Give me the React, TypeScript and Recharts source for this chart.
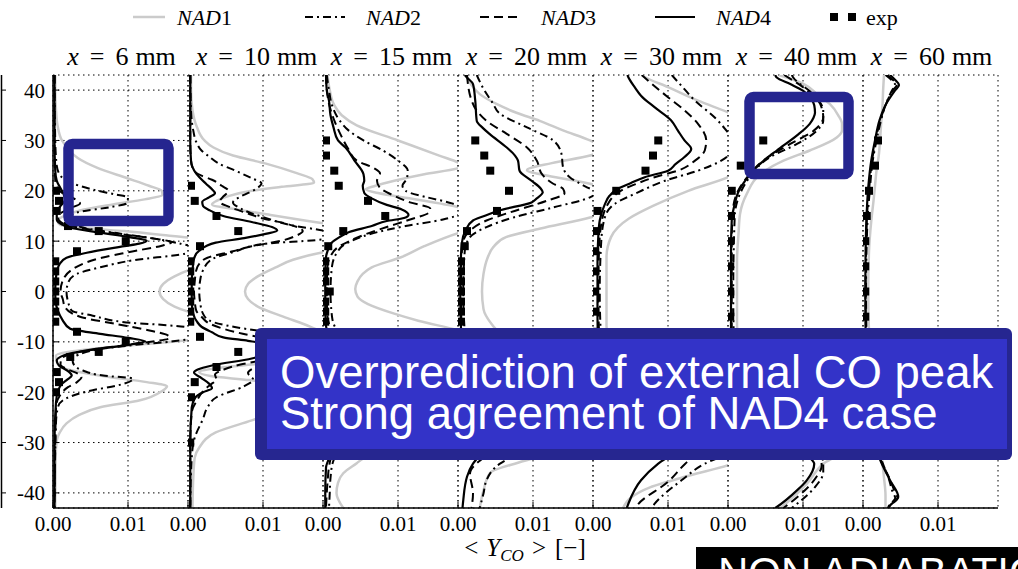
import React from 'react';
import { LineChart, Line, XAxis, YAxis, CartesianGrid } from 'recharts';

type Pt = [number, number];

// ---------- categories / ticks ----------
const STATIONS = ['6', '10', '15', '20', '30', '40', '60'];
const Y_TICKS = [-40, -30, -20, -10, 0, 10, 20, 30, 40];
const X_TICKS = [0, 0.01];
const LEGEND_NAMES = ['NAD1', 'NAD2', 'NAD3', 'NAD4', 'exp'];

// ---------- series values: [r (mm), <Y_CO> x 1e-3] ----------
const X6_NAD1: Pt[] = [[43,0.3],[40,0.3],[36,0.4],[33,0.6],[30,1.2],[28,2.2],[26.5,3.3],[24.5,6],[22.5,9.9],[21,12.8],[20,14.5],[19.2,14.6],[18.3,12.2],[17.3,8],[16.1,3.6],[15,1.5],[14,0.6],[13.2,1],[12.5,5],[12,9.5],[11.3,14],[10.7,18],[9,24],[6.5,24],[4.2,18],[3,16.2],[1.5,14.7],[0,14.2],[-1.5,14.7],[-3,16.2],[-4,18],[-6,24],[-8.5,24],[-9.7,17.9],[-10.5,12],[-11.3,6],[-12,2],[-12.7,0.4],[-14,0.5],[-15,1],[-16,3.5],[-17,7.5],[-18,12.5],[-18.8,15.2],[-19.8,14.5],[-21.6,11.6],[-23,6.3],[-24.5,3.5],[-26.2,1.8],[-28,0.9],[-29.6,0.5],[-33,0.35],[-43,0.3]];
const X6_NAD2: Pt[] = [[43,0.2],[30,0.3],[25,0.5],[23,1],[22,1.8],[21,3.5],[20.3,5.2],[19.3,8.2],[18.7,10],[17.5,9.8],[16.8,7.8],[15.7,3.2],[14.8,2.3],[13.8,2.6],[12.7,4],[11.6,8.5],[10.5,13.5],[9.5,17],[8.5,19.5],[7.5,17.6],[6.2,10.7],[4.8,6.3],[3.5,3.2],[2,2.1],[0,1.8],[-2,2],[-3.8,2.5],[-4.8,5.3],[-6.2,10.3],[-6.7,15.2],[-7.1,17.9],[-8.2,20],[-9.2,19],[-9.9,16],[-10.6,11],[-11.5,6],[-12.5,3.5],[-13.5,2.6],[-14.6,2.8],[-15.7,4],[-16.7,6.7],[-17.3,10.7],[-18.7,8.5],[-19.6,5.3],[-21.2,1.8],[-22.8,0.7],[-26,0.4],[-43,0.2]];
const X6_NAD3: Pt[] = [[43,0.2],[28,0.2],[22,0.3],[20.5,0.6],[19.3,1.5],[18.3,3],[17.5,3.6],[16.6,2.4],[15.5,1],[14.5,0.7],[13.4,1.5],[12.4,4.5],[11.4,9],[10.5,13.5],[9.8,15.8],[9.1,14.5],[7.8,10],[6.7,6.5],[5.8,4.5],[4.2,2.4],[2.5,1.4],[0,1],[-1.5,1.3],[-3.1,1.6],[-5.1,3.8],[-6.4,8.2],[-7.7,12.7],[-8.7,15.3],[-9.2,15.6],[-10.5,10.4],[-11.4,6],[-12.4,2.4],[-13.4,1.1],[-14.5,1],[-15.5,2],[-16.3,3.3],[-17,3.8],[-18,3.2],[-19,2],[-20.7,0.9],[-23,0.4],[-43,0.2]];
const X6_NAD4: Pt[] = [[43,0.2],[30,0.2],[24,0.3],[22,0.5],[20.5,1],[19.4,1.4],[18.2,1.6],[17,1],[15.5,0.5],[14.3,0.5],[13.3,1.2],[12.7,2.2],[11.7,6.3],[10.8,10.2],[10.1,12.5],[9.5,11.5],[9,9.5],[7.7,4.5],[6.7,1.8],[5.5,0.9],[4.5,0.6],[2,0.35],[0,0.3],[-2,0.35],[-4,0.7],[-5.5,1.2],[-7.4,2.3],[-8.4,6.3],[-9.2,10],[-9.9,12.3],[-10.6,10],[-11.7,4.5],[-12.7,1.4],[-13.7,0.5],[-14.7,0.8],[-15.8,2],[-16.7,2.5],[-17.5,1.9],[-18.5,1.1],[-19.6,0.7],[-22,0.4],[-30,0.2],[-43,0.2]];
const X6_EXP: Pt[] = [[20,0.4],[18,0.8],[16,0.5],[13,2],[12,6.1],[10,9.7],[8,3.2],[6,0.3],[4,0.3],[2,0.3],[0,0.3],[-2,0.3],[-4,0.3],[-6,0.3],[-8,3.2],[-10,9.7],[-12,6.1],[-13,2.3],[-16,0.5],[-18,0.8],[-20,0.4]];

const X10_NAD1: Pt[] = [[43,0.4],[40,0.4],[36,0.6],[32.6,1.2],[30,2.2],[28.6,3.4],[27,6],[25.4,10.4],[23.5,14.5],[22.3,16.6],[21.6,16.8],[20.8,12.5],[20,8.5],[19,5.5],[18,3.8],[17.3,3.2],[16.3,6.5],[15.2,11],[14,16],[13.3,19],[11,24],[9,23],[7.7,17.7],[6.3,14],[4.8,11.7],[3,9.3],[1.5,8],[0,7.6],[-1.5,8],[-3,9.3],[-5,12.7],[-6.5,15.5],[-8,18],[-10,23],[-12,24],[-13.3,18],[-14.3,10],[-15.2,4],[-16,1.5],[-16.8,3],[-17.6,8.2],[-19,13],[-20.5,16.5],[-21.5,16.8],[-22.5,15],[-24,11.5],[-25.6,8.5],[-28,3.7],[-31,1.5],[-33,0.9],[-37,0.7],[-43,0.6]];
const X10_NAD2: Pt[] = [[43,0.3],[36,0.4],[32,0.7],[29.7,1.1],[28,1.8],[26.7,2.9],[25.5,4],[24,6.3],[22.5,8.5],[21.5,9.8],[20.3,9],[19,7.2],[17.7,6],[16.5,7],[15.5,8.5],[14.8,10],[13.1,14],[12.1,18],[11,20.5],[10.2,17],[9.5,10.4],[7.8,6],[6.5,3.3],[4.2,2],[2,1.6],[0,1.5],[-2,1.6],[-4.4,2],[-5.8,2.9],[-7.1,6.4],[-7.7,9],[-8.5,13],[-9.5,16],[-10.5,19],[-11.5,20],[-12.5,17.5],[-13.5,13],[-14.8,9.5],[-16.2,8],[-17.5,8.7],[-18.8,7.5],[-21,3.8],[-23,2.6],[-25.3,2],[-29,0.9],[-33,0.5],[-43,0.3]];
const X10_NAD3: Pt[] = [[43,0.3],[30,0.3],[26,0.4],[24,0.8],[23,1.8],[22.2,3.2],[21,4.5],[20,5.4],[18.7,4.6],[17.8,4.2],[16.8,5.5],[15.5,8],[14.5,10],[13.5,13],[12.5,15],[12,15.3],[11,14.3],[10.1,12.5],[9,8.5],[8,6],[6.7,2.6],[5.5,1.5],[4.2,1.1],[2,0.9],[0,0.8],[-2,0.9],[-3.8,1.1],[-5,1.8],[-6.4,2.9],[-8.4,7.3],[-9.5,11],[-10.5,14],[-11.5,15.3],[-12.3,14.5],[-13.5,10.5],[-14.5,7],[-15.5,4.8],[-16.5,3.6],[-17.5,3.8],[-18.5,3],[-19.5,2.2],[-21.6,1.2],[-24,0.5],[-30,0.3],[-43,0.3]];
const X10_NAD4: Pt[] = [[43,0.3],[30,0.3],[26,0.4],[24.7,0.6],[23.4,1.1],[21.4,2.4],[20.3,3.2],[19.5,3.6],[18.7,2.8],[17.8,1.9],[17,2],[16.2,2.8],[15,4.7],[13.8,8.5],[12.8,11.2],[12.1,11.9],[11.5,10.5],[10.6,7.5],[9.7,3.7],[8.1,1.5],[6.5,0.8],[4.2,0.6],[2,0.5],[0,0.5],[-2,0.5],[-4.4,0.7],[-6,1.2],[-7,1.8],[-8.1,3.2],[-9.1,4.7],[-9.8,8],[-10.5,10.8],[-11.2,12],[-12,11],[-13.3,8.5],[-14.7,3.2],[-15.5,1.3],[-16.1,0.8],[-17.2,1.8],[-18.3,2.8],[-19.2,3.2],[-20,2],[-21,1],[-23,0.5],[-30,0.3],[-43,0.3]];
const X10_EXP: Pt[] = [[21,0.4],[18,0.9],[15,3.8],[12,6.7],[9,1.6],[6,0.3],[4,0.3],[2,0.3],[0,0.3],[-2,0.3],[-4,0.3],[-6,0.3],[-9,1.6],[-12,6.7],[-15,3.8],[-18,0.9],[-21,0.4],[-30,0.3]];

const X15_NAD1: Pt[] = [[43,0.6],[40,0.9],[37,1.5],[35,2.5],[33,4.5],[30,10],[27,15.5],[25.5,18.2],[25,18.8],[24.4,17.8],[23.3,13.5],[22,9.5],[21,7],[20.3,5.7],[19.5,7.5],[18.5,11.5],[17.5,15.5],[16.8,18],[14,22],[12.5,20],[11.6,18],[9,13.5],[6.8,10.4],[4.8,6.5],[3.5,5.3],[2,4.6],[0.5,4.3],[-1,4.6],[-2.5,6],[-4.4,9.5],[-5.8,12.7],[-7.7,18],[-10,22],[-14,22],[-16.8,18],[-17.5,15.5],[-18.5,11.5],[-19.5,7.5],[-20.3,5.7],[-21,7],[-22,9.5],[-23.3,13.5],[-24.4,17.8],[-25,18.8],[-25.5,18.2],[-27,15.5],[-30,10],[-33,5.5],[-34.1,4.5],[-36.1,2.7],[-38,2],[-40,1.8],[-43,2.7]];
const X15_NAD2: Pt[] = [[43,0.5],[40,0.8],[37,1.2],[34,2.2],[32,3.4],[30,5.4],[28,8],[26,10],[24,11.3],[22.5,11.2],[21,10.6],[20,11],[18.7,13.9],[17.5,17.2],[16.5,18.5],[15.5,18.3],[14.3,16],[13,11],[11.5,6.5],[10.3,4.2],[9.3,2.8],[7.8,1.9],[5,1.2],[0,1],[-5,1.2],[-7.8,1.9],[-9.3,2.8],[-10.3,4.2],[-11.5,6.5],[-13,11],[-14.3,16],[-15.5,18.3],[-16.5,18.5],[-17.5,17.2],[-18.7,13.9],[-20,11],[-21,10.6],[-22.5,11.2],[-24,11.3],[-26,10],[-28,7.5],[-30,4],[-32,2],[-34,1.3],[-37,1],[-40,0.9],[-43,0.8]];
const X15_NAD3: Pt[] = [[43,0.4],[38,0.7],[34,1.5],[31,2.4],[28.5,3.3],[26,4.5],[24.5,6.8],[23.5,7.6],[22,7.2],[20.6,7.6],[19,9.5],[17.7,11.6],[16.5,14.3],[15.8,14.2],[14.1,11.2],[12.8,8.5],[11.5,5.9],[10,3.5],[8.7,1.9],[7,1],[5,0.6],[0,0.5],[-5,0.6],[-7,1],[-8.7,1.9],[-10,3.5],[-11.5,5.9],[-12.8,8.5],[-14.1,11.2],[-15.8,14.2],[-16.5,14.3],[-17.7,11.6],[-19,9.5],[-20.6,7.6],[-22,7.2],[-23.5,7.6],[-24.5,6.8],[-26,4.5],[-28.5,3],[-31,1.6],[-34,0.9],[-38,0.6],[-43,0.4]];
const X15_NAD4: Pt[] = [[43,0.4],[40,0.5],[37.9,0.8],[35,1],[32.6,1.4],[30,2],[28.6,3],[26,4.2],[23.3,5.4],[22,5.5],[21,5.3],[19.6,5.5],[18.5,6.5],[17.2,8.5],[16.3,10.5],[15.2,11.4],[14.6,10.8],[14,8.5],[13,6.5],[11.8,3.5],[10.8,2.2],[9.6,1.1],[8,0.6],[6.8,0.4],[3,0.3],[0,0.3],[-3,0.3],[-6.8,0.4],[-8,0.6],[-9.6,1.1],[-10.8,2.2],[-11.8,3.5],[-13,6.5],[-14,8.5],[-14.6,10.8],[-15.2,11.4],[-16.3,10.5],[-17.2,8.5],[-18.5,6.5],[-19.6,5.5],[-21,5.3],[-22,5.5],[-23.3,5.4],[-26,4.2],[-28.6,3],[-30,2],[-32.6,1],[-35,0.4],[-40,0.3],[-43,0.3]];
const X15_EXP: Pt[] = [[30,0.4],[27,0.4],[24,1.5],[21,2.1],[18,6],[15,8.3],[12,2.7],[9,0.7],[6,0.3],[4,0.3],[2,0.3],[0,0.9],[-2,0.3],[-4,0.3],[-6,0.3],[-9,0.7],[-12,2.7],[-15,8.3],[-18,6],[-21,2.1],[-24,1.5],[-27,0.4],[-30,0.4]];

const X20_NAD1: Pt[] = [[43,1],[42.5,1.2],[41,1.8],[39.2,2.9],[37.2,5.2],[35.5,7.8],[33.9,10.9],[32,14],[30,17.6],[28.5,19.5],[27,17.6],[25.5,12.5],[24.1,9.2],[23,12],[21.4,17.6],[19,21],[16.5,21],[14.7,17.6],[12.5,11],[10.8,6.4],[8.8,4.7],[6.5,3.9],[3.5,3.4],[0,3.2],[-3.5,3.4],[-6.5,4.5],[-8.8,6],[-10.8,8.5],[-12.5,13],[-14.7,18],[-16.5,21],[-19,21],[-21.4,17.6],[-23,12],[-24.1,9.2],[-25.5,12.5],[-27,17.6],[-28.5,19.5],[-30,17.6],[-32,13],[-34,8],[-36,4.3],[-39.5,3.4],[-43,2.9]];
const X20_NAD2: Pt[] = [[43,2.5],[40,3.5],[37.5,4.6],[35.3,5.6],[32.6,9.2],[30,12.7],[27.3,13.8],[24.7,14],[22.7,14.9],[20.7,17.2],[19.7,18.5],[18.7,17.6],[16.7,12.7],[14.7,7.4],[12.8,3.8],[10.8,1.6],[8,0.9],[0,0.7],[-8,0.9],[-10.8,1.6],[-12.8,3.8],[-14.7,7.4],[-16.7,12.7],[-18.7,17.6],[-19.7,18.5],[-20.7,17.2],[-22.7,14.9],[-24.7,14],[-27.3,13.8],[-30,12],[-32,8.5],[-34.2,5.6],[-37.5,3.8],[-40.1,3.4],[-43,2.9]];
const X20_NAD3: Pt[] = [[43,1.2],[38,1.8],[35.9,2.5],[33.9,3.8],[31.3,6.5],[28.6,9.2],[26,10.5],[23.3,11.2],[21.4,12.7],[20.4,14],[19.5,14.2],[18,11.8],[15.7,6.9],[14.1,3.8],[12.1,1.6],[10,0.7],[6,0.45],[0,0.4],[-6,0.45],[-10,0.7],[-12.1,1.6],[-14.1,3.8],[-15.7,6.9],[-18,11.8],[-19.5,14.2],[-20.4,14],[-21.4,12.7],[-23.3,11.2],[-26,10.5],[-28.6,9],[-31,6],[-33.5,3],[-36.2,1.6],[-40.1,2],[-43,1.8]];
const X20_NAD4: Pt[] = [[43,0.9],[42.5,1.2],[41.2,2],[37.9,2.3],[33.9,2.5],[32.5,3.3],[31.3,4.2],[28.6,6.5],[27,7.6],[26,8],[24,8.2],[22,9.8],[20.5,11],[19.7,11.3],[18.5,10.5],[17.7,9.8],[16.1,5.5],[15,3.5],[14.1,2],[12.1,1],[9.5,0.5],[5,0.35],[0,0.3],[-5,0.35],[-9.5,0.5],[-12.1,1],[-14.1,2],[-15,3.5],[-16.1,5.5],[-17.7,9.8],[-18.5,10.5],[-19.7,11.3],[-20.5,11],[-22,9.8],[-24,8.2],[-26,8],[-27,7.6],[-28.6,6.5],[-31,4],[-34.2,2],[-36.8,1.2],[-41.5,0.7],[-43,0.6]];
const X20_EXP: Pt[] = [[30,2.3],[27,3.5],[24,4.3],[20,6.8],[16,5.2],[12,1.2],[9,0.9],[6,0.4],[4,0.4],[2,0.4],[0,0.4],[-2,0.4],[-4,0.4],[-6,0.4],[-9,0.9],[-12,1.2],[-16,5.2],[-20,6.8],[-24,4.3],[-27,3.5],[-30,2.3]];

const X30_NAD1: Pt[] = [[43,6.5],[42.6,6.9],[40.6,10],[37.9,14],[35.6,18],[34,20.5],[28,22],[24.5,20],[22.7,18],[20,12.7],[17,8],[14.5,4.8],[10.8,2.4],[6.8,1.8],[0,1.8],[-6.8,1.8],[-10.8,2.4],[-14.5,4.8],[-17,8],[-20,12.7],[-22.7,18],[-24.5,20],[-28,22],[-33,20.5],[-34.5,18],[-36.5,13],[-38.9,7.6],[-41,5],[-43,4]];
const X30_NAD2: Pt[] = [[43,10.5],[40.5,12],[37.9,13.6],[34.6,16.2],[32.3,17.6],[30,18.6],[28,18.5],[26,17.1],[24,14],[22,9.6],[19.7,6],[17.4,2.9],[14.8,1.6],[10,1.1],[0,0.9],[-10,1.1],[-14.8,1.6],[-17.4,2.9],[-19.7,6],[-22,9.6],[-24,14],[-26,17.1],[-28,18.5],[-30,18.6],[-32.3,17.6],[-34.2,14.9],[-37.5,11.8],[-42.2,8.2],[-43,7.8]];
const X30_NAD3: Pt[] = [[43,6.5],[41.3,7.8],[38.6,10],[36,12.2],[33.3,14],[30,15.1],[28,14.9],[26,13.6],[24,11.3],[22.7,8.2],[21.5,6],[20.4,4.2],[19,2.8],[17.4,2],[13.4,1.1],[8,0.8],[0,0.7],[-8,0.8],[-13.4,1.1],[-17.4,2],[-19,2.8],[-20.4,4.2],[-21.5,6],[-22.7,8.2],[-24,11.3],[-26,13.6],[-28,14.9],[-30,15.1],[-32,14],[-34.2,12.3],[-37.8,10],[-42.3,6],[-43,5.7]];
const X30_NAD4: Pt[] = [[43,4.6],[42.6,4.7],[40.5,5.6],[38.9,6.4],[36.6,8.2],[34,10.4],[32,11.3],[30,12.2],[28.3,13.1],[26.7,12.2],[25.3,11],[24,10],[22.7,6.9],[21.5,5],[20.4,3.3],[19,2.2],[17.4,1.6],[14.1,0.9],[10.8,0.7],[5,0.6],[0,0.6],[-5,0.6],[-10.8,0.7],[-14.1,0.9],[-17.4,1.6],[-19,2.2],[-20.4,3.3],[-21.5,5],[-22.7,6.9],[-24,10],[-25.3,11],[-26.7,12.2],[-28.3,13.1],[-30,12.2],[-32,10.8],[-34.2,8.7],[-37.5,6.4],[-42.2,4.7],[-43,4.5]];
const X30_EXP: Pt[] = [[30,8.7],[27,8],[24,7],[20,3.1],[16,0.6],[12,0.4],[8,0.3],[4,0.3],[0,0.3],[-4,0.3],[-8,0.3],[-12,0.4],[-16,0.6],[-20,3.1],[-24,7],[-27,8],[-30,8.7]];

const X40_NAD1: Pt[] = [[43,6.8],[41.3,10],[39,12],[37.2,13.6],[35,14.7],[33.3,15.2],[32,15.2],[30.6,14.5],[28,10.9],[26,7.4],[23.3,4.3],[19.4,2.5],[15.4,1.6],[11.4,1.4],[6.2,1.2],[0,1.2],[-6.2,1.2],[-11.4,1.4],[-15.4,1.6],[-19.4,2.5],[-23.3,4.3],[-26,7.4],[-28,10.9],[-30.6,14.5],[-32,14.8],[-34.2,12.7],[-38.2,10.5],[-42.5,7.4],[-43,7]];
const X40_NAD2: Pt[] = [[43,8.5],[42.5,8.7],[39,11.5],[35.9,12.7],[33.9,12.7],[31.9,11.8],[29.3,9.2],[26.7,5.6],[22.7,2.9],[19.4,1.6],[15,0.9],[0,0.7],[-15,0.9],[-19.4,1.6],[-22.7,2.9],[-26.7,5.6],[-29.3,9.2],[-31.9,11.8],[-33.9,12.7],[-35.9,12.7],[-39,11.5],[-43,8.5]];
const X40_NAD3: Pt[] = [[43,7.5],[40,10.5],[37.2,12.3],[34.6,12.7],[31.9,11.4],[29.3,8.3],[26,4.7],[23.3,2.9],[20.7,1.6],[16.7,0.7],[10,0.5],[0,0.5],[-10,0.5],[-16.7,0.7],[-20.7,1.6],[-23.3,2.9],[-26,4.7],[-29.3,8.3],[-31.9,11.4],[-34.6,12.5],[-36.8,11.8],[-41.5,8.7],[-43,7.4]];
const X40_NAD4: Pt[] = [[43,6.3],[42.5,6.5],[41.2,8.3],[39.9,10],[38,11.2],[37,11.5],[35.5,11.6],[34.5,11.4],[33.3,10.9],[31,9.2],[28,6.5],[26.4,5.1],[24.7,3.8],[22,2.3],[19.5,1.3],[17.4,0.9],[14.1,0.5],[8,0.4],[0,0.4],[-8,0.4],[-14.1,0.5],[-17.4,0.9],[-19.5,1.3],[-22,2.3],[-24.7,3.8],[-26.4,5.1],[-28,6.5],[-31,9.2],[-33,10.9],[-34.2,11.5],[-37.5,10.5],[-39.5,9.2],[-42.8,6.5],[-43,6.3]];
const X40_EXP: Pt[] = [[30,4.7],[25,1.7],[20,0.5],[15,0.4],[10,0.3],[5,0.3],[0,0.3],[-5,0.3],[-10,0.3],[-15,0.4],[-20,0.5],[-25,1.7],[-30,4.7]];

const X60_NAD1: Pt[] = [[43,2.8],[40.5,2.7],[37,2.6],[33,2.4],[30.6,2.3],[27,2.1],[24,1.8],[21,1.6],[18,1.4],[14,1.1],[8,0.8],[0,0.7],[-8,0.8],[-14,1.1],[-18,1.4],[-21,1.6],[-24,1.8],[-27,2.1],[-30.6,2.3],[-33,2.5],[-37,2.8],[-40.5,3],[-43,3]];
const X60_NAD2: Pt[] = [[43,3],[42,3.8],[41,4.3],[40,3.9],[37,3],[34,2.4],[30,1.8],[26,1.3],[20,0.9],[14,0.6],[0,0.4],[-14,0.6],[-20,0.9],[-26,1.3],[-30,1.8],[-34,2.6],[-37,3.4],[-40,4],[-41,4.3],[-42,3.8],[-43,3.2]];
const X60_NAD3: Pt[] = [[43,3.2],[42,4],[41,4.5],[40,4],[37,3],[34,2.3],[30,1.7],[26,1.2],[20,0.8],[14,0.5],[0,0.35],[-14,0.5],[-20,0.8],[-26,1.2],[-30,1.7],[-34,2.5],[-37,3.5],[-40,4.3],[-41,4.6],[-42,4],[-43,3.3]];
const X60_NAD4: Pt[] = [[43,3.6],[42,4.3],[41,4.8],[40,4.3],[37.3,3.1],[34,2.2],[30,1.6],[26,1.1],[20.7,0.7],[14.1,0.45],[8,0.35],[0,0.3],[-8,0.35],[-14.1,0.45],[-20.7,0.7],[-26,1.1],[-30,1.6],[-33.5,2.3],[-37.5,3.6],[-40.8,4.7],[-42.5,3.6],[-43,3.3]];
const X60_EXP: Pt[] = [[30,2],[25,1.6],[20,0.8],[15,0.5],[10,0.3],[5,0.3],[0,0.3],[-5,0.3],[-10,0.3],[-15,0.5],[-20,0.8],[-25,1.6],[-30,2]];

const NAD1_BY_STATION = [X6_NAD1, X10_NAD1, X15_NAD1, X20_NAD1, X30_NAD1, X40_NAD1, X60_NAD1];
const NAD2_BY_STATION = [X6_NAD2, X10_NAD2, X15_NAD2, X20_NAD2, X30_NAD2, X40_NAD2, X60_NAD2];
const NAD3_BY_STATION = [X6_NAD3, X10_NAD3, X15_NAD3, X20_NAD3, X30_NAD3, X40_NAD3, X60_NAD3];
const NAD4_BY_STATION = [X6_NAD4, X10_NAD4, X15_NAD4, X20_NAD4, X30_NAD4, X40_NAD4, X60_NAD4];
const EXP_BY_STATION = [X6_EXP, X10_EXP, X15_EXP, X20_EXP, X30_EXP, X40_EXP, X60_EXP];

// ---------- layout / style ----------
const PLOT_LEFT = 53;
const PLOT_TOP = 75;
const PLOT_W = 135;
const PLOT_H = 433;
const SERIF = "'Liberation Serif', 'DejaVu Serif', serif";
const SANS = "'Liberation Sans', Arial, sans-serif";
const NAVY = '#25258f';

const STYLE_NAD1 = { stroke: '#cbcbcb', strokeWidth: 2.5 };
const STYLE_NAD2 = { stroke: '#000', strokeWidth: 2, strokeDasharray: '8 4 2 4' };
const STYLE_NAD3 = { stroke: '#000', strokeWidth: 2, strokeDasharray: '9 5' };
const STYLE_NAD4 = { stroke: '#000', strokeWidth: 2.2 };

const toRows = (arr: Pt[]) => arr.map(([r, v]) => ({ r, v: v / 1000 }));

const Square = (props: any) => {
  const { cx, cy, index } = props;
  if (cx == null || cy == null) return <g key={`s${index}`} />;
  return <rect key={`s${index}`} x={cx - 4} y={cy - 4} width={8} height={8} fill="#000" />;
};

function Panel({ i }: { i: number }) {
  const first = i === 0;
  const mL = first ? 0 : 25;
  const yW = first ? 50 : 0;
  const offL = mL + yW;
  const mT = 5;
  const mR = 25;
  const xH = 50;
  const width = offL + PLOT_W + mR;
  const height = mT + PLOT_H + xH;
  const axisLine = { stroke: '#000', strokeWidth: 1.5 };
  const tickLine = { stroke: '#000', strokeWidth: 1 };
  const tickText = { fill: '#000', fontSize: 21, fontFamily: SERIF };
  return (
    <div style={{ position: 'absolute', left: PLOT_LEFT + i * PLOT_W - offL, top: PLOT_TOP - mT }}>
      <LineChart layout="vertical" width={width} height={height} margin={{ top: mT, right: mR, bottom: 0, left: mL }}>
        <CartesianGrid xAxisId="b" yAxisId="l" stroke="#000" strokeWidth={1} strokeDasharray="1.5 3.5" />
        <XAxis xAxisId="b" type="number" orientation="bottom" domain={[0, 0.018]} allowDataOverflow ticks={X_TICKS} interval={0}
          tickFormatter={(v: number) => v.toFixed(2)} height={xH} tickSize={-6} tickMargin={14}
          axisLine={axisLine} tickLine={tickLine} tick={tickText} />
        <XAxis xAxisId="t" type="number" orientation="top" domain={[0, 0.018]} allowDataOverflow ticks={X_TICKS} interval={0}
          height={0} tickSize={-6} tick={false} axisLine={axisLine} tickLine={tickLine} />
        <YAxis yAxisId="l" type="number" dataKey="r" orientation="left" reversed domain={[-43, 43]} allowDataOverflow ticks={Y_TICKS} interval={0}
          width={yW} tickSize={-6} tickMargin={14} axisLine={axisLine} tickLine={tickLine}
          tick={first ? tickText : false} />
        <YAxis yAxisId="rr" type="number" orientation="right" reversed domain={[-43, 43]} allowDataOverflow ticks={Y_TICKS} interval={0}
          width={0} tickSize={-6} tick={false} axisLine={axisLine} tickLine={tickLine} />
        <Line xAxisId="b" yAxisId="l" data={toRows(NAD1_BY_STATION[i])} dataKey="v" type="monotone" dot={false} activeDot={false} isAnimationActive={false} {...STYLE_NAD1} />
        <Line xAxisId="b" yAxisId="l" data={toRows(NAD2_BY_STATION[i])} dataKey="v" type="monotone" dot={false} activeDot={false} isAnimationActive={false} {...STYLE_NAD2} />
        <Line xAxisId="b" yAxisId="l" data={toRows(NAD3_BY_STATION[i])} dataKey="v" type="monotone" dot={false} activeDot={false} isAnimationActive={false} {...STYLE_NAD3} />
        <Line xAxisId="b" yAxisId="l" data={toRows(NAD4_BY_STATION[i])} dataKey="v" type="monotone" dot={false} activeDot={false} isAnimationActive={false} {...STYLE_NAD4} />
        <Line xAxisId="b" yAxisId="l" data={toRows(EXP_BY_STATION[i])} dataKey="v" stroke="none" strokeWidth={0} dot={Square} activeDot={false} isAnimationActive={false} />
      </LineChart>
    </div>
  );
}

export default function App() {
  const yPix = (t: number) => PLOT_TOP + ((43 - t) / 86) * PLOT_H;
  return (
    <div style={{ position: 'absolute', left: 0, top: 0, width: 1018, height: 569, background: '#fff', overflow: 'hidden' }}>
      {STATIONS.map((_, i) => <Panel key={i} i={i} />)}
      <svg width={1018} height={569} style={{ position: 'absolute', left: 0, top: 0, pointerEvents: 'none' }}>
        {/* fragment of neighbouring axis at the left edge */}
        <line x1={1.5} y1={PLOT_TOP} x2={1.5} y2={PLOT_TOP + PLOT_H} stroke="#000" strokeWidth={1.5} />
        {Y_TICKS.map((t) => <line key={t} x1={1.5} x2={6} y1={yPix(t)} y2={yPix(t)} stroke="#000" strokeWidth={1} />)}

        {/* legend */}
        <g fontFamily={SERIF} fontSize={22} fill="#000">
          <line x1={133} x2={165} y1={17} y2={17} {...STYLE_NAD1} />
          <text x={177} y={25}><tspan fontStyle="italic">NAD</tspan>1</text>
          <line x1={305} x2={345} y1={17} y2={17} {...STYLE_NAD2} />
          <text x={366} y={25}><tspan fontStyle="italic">NAD</tspan>2</text>
          <line x1={480} x2={520} y1={17} y2={17} {...STYLE_NAD3} />
          <text x={541} y={25}><tspan fontStyle="italic">NAD</tspan>3</text>
          <line x1={655} x2={695} y1={17} y2={17} {...STYLE_NAD4} />
          <text x={716} y={25}><tspan fontStyle="italic">NAD</tspan>4</text>
          <rect x={830} y={13} width={8} height={8} fill="#000" />
          <rect x={848} y={13} width={8} height={8} fill="#000" />
          <text x={866} y={25}>{LEGEND_NAMES[4]}</text>
        </g>

        {/* column titles */}
        <g fontFamily={SERIF} fontSize={26} fill="#000">
          {STATIONS.map((s, i) => (
            <text key={s} x={PLOT_LEFT + i * PLOT_W + PLOT_W / 2 + 1} y={65} textAnchor="middle">
              <tspan fontStyle="italic">x</tspan><tspan dx={11}>=</tspan><tspan dx={11}>{s}</tspan><tspan dx={7}>mm</tspan>
            </text>
          ))}
        </g>

        {/* x-axis label */}
        <text x={525} y={556} textAnchor="middle" fontFamily={SERIF} fontSize={25} fill="#000">
          <tspan>&lt;</tspan><tspan dx={8} fontStyle="italic">Y</tspan><tspan fontStyle="italic" fontSize={17} dy={5}>CO</tspan><tspan dy={-5} dx={8}>&gt;</tspan><tspan dx={9}>[−]</tspan>
        </text>

        {/* highlight boxes */}
        <rect x={68.5} y={144} width={100} height={77} rx={4} fill="none" stroke={NAVY} strokeWidth={10.5} />
        <rect x={749.5} y={97} width={99} height={77} rx={4} fill="none" stroke={NAVY} strokeWidth={10.5} />

        {/* callout */}
        <rect x={255} y={328} width={757} height={132} rx={6} fill="#262690" />
        <rect x={267} y={339} width={740} height={110} fill="#3333c8" />
        <g fontFamily={SANS} fontSize={45.5} fill="#fff">
          <text x={280} y={388}>Overprediction of external CO peak</text>
          <text x={280} y={429}>Strong agreement of NAD4 case</text>
        </g>

        {/* bottom tag */}
        <rect x={696} y={547} width={330} height={30} fill="#000" />
        <text x={718} y={587} fontFamily={SANS} fontSize={42} fill="#fff">NON ADIABATIC</text>
      </svg>
    </div>
  );
}
